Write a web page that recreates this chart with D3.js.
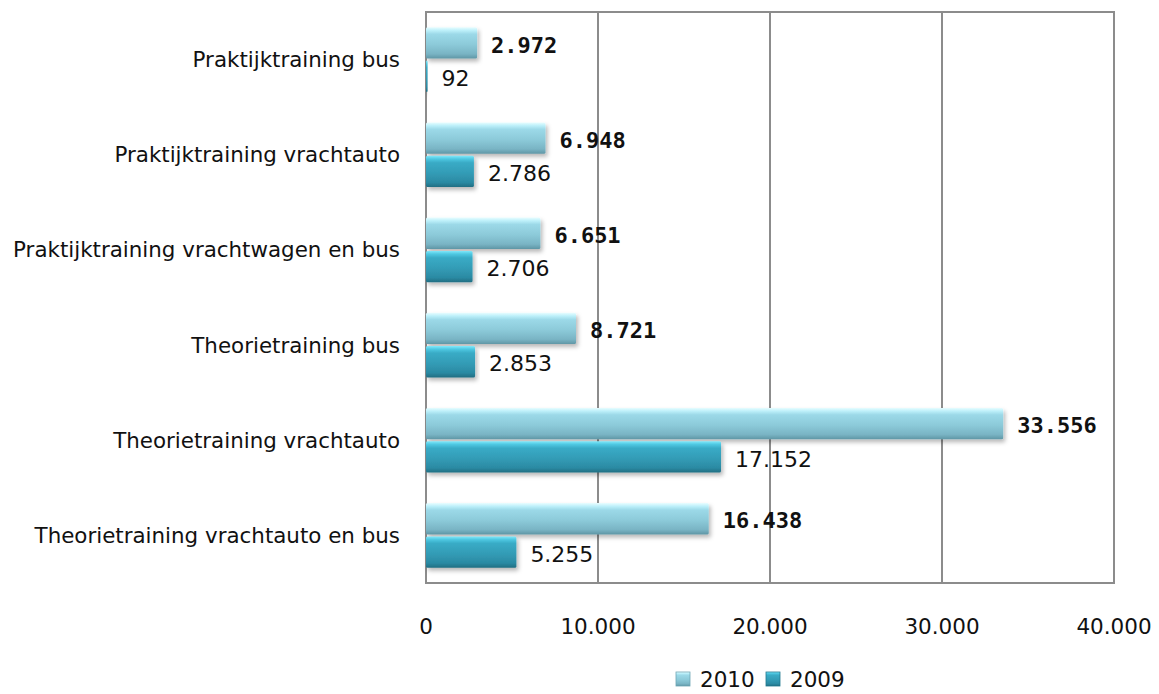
<!DOCTYPE html>
<html>
<head>
<meta charset="utf-8">
<script src="https://cdn.jsdelivr.net/npm/d3@7"></script>
<style>
  body { margin: 0; background: #fff; }
  svg text { font-family: "DejaVu Sans", sans-serif; fill: #111; }
</style>
</head>
<body>
<script>
// chart data
var categories = [
  "Praktijktraining bus",
  "Praktijktraining vrachtauto",
  "Praktijktraining vrachtwagen en bus",
  "Theorietraining bus",
  "Theorietraining vrachtauto",
  "Theorietraining vrachtauto en bus"
];
var values2010 = [2972, 6948, 6651, 8721, 33556, 16438];
var values2009 = [92, 2786, 2706, 2853, 17152, 5255];
var seriesNames = ["2010", "2009"];
var xTicks = [0, 10000, 20000, 30000, 40000];

var width = 1159, height = 694;
var plot = { left: 426, right: 1114, top: 12, bottom: 583 };

var nl = d3.formatLocale({ decimal: ",", thousands: ".", grouping: [3], currency: ["€", ""] });
var fmt = nl.format(",d");

var svg = d3.select("body").append("svg")
    .attr("width", width)
    .attr("height", height);

var defs = svg.append("defs");

// bar gradients (3d look)
function grad(id, stops) {
  var g = defs.append("linearGradient").attr("id", id)
      .attr("x1", 0).attr("y1", 0).attr("x2", 0).attr("y2", 1);
  stops.forEach(function (s) {
    g.append("stop").attr("offset", s[0]).attr("stop-color", s[1]);
  });
}
grad("g2010", [["0%", "#e8fdff"], ["10%", "#bdf0fa"], ["22%", "#9cd9e8"], ["55%", "#8ccad9"], ["85%", "#79b4c4"], ["100%", "#5f96a5"]]);
grad("g2009", [["0%", "#80e8fa"], ["10%", "#4ec8e2"], ["22%", "#39abc6"], ["55%", "#339cb6"], ["85%", "#2b8aa3"], ["100%", "#216e82"]]);

var shadow = defs.append("filter").attr("id", "shadow")
    .attr("x", "-5%").attr("y", "-20%").attr("width", "115%").attr("height", "160%");
shadow.append("feDropShadow").attr("dx", 2).attr("dy", 3)
    .attr("stdDeviation", 2).attr("flood-color", "#000").attr("flood-opacity", 0.28);

var x = d3.scaleLinear().domain([0, 40000]).range([plot.left, plot.right]);
var y = d3.scaleBand().domain(categories).range([plot.top, plot.bottom])
    .paddingInner(0.3).paddingOuter(0.15);
var ySub = d3.scaleBand().domain(seriesNames).range([0, y.bandwidth()]);

// gridlines
svg.append("g").selectAll("line")
  .data(xTicks.slice(1, -1))
  .enter().append("line")
    .attr("x1", function (d) { return x(d); })
    .attr("x2", function (d) { return x(d); })
    .attr("y1", plot.top).attr("y2", plot.bottom)
    .attr("stroke", "#8c8c8c").attr("stroke-width", 2);

// plot border
svg.append("rect")
    .attr("x", plot.left).attr("y", plot.top)
    .attr("width", plot.right - plot.left).attr("height", plot.bottom - plot.top)
    .attr("fill", "none").attr("stroke", "#8c8c8c").attr("stroke-width", 2);

// x axis labels
svg.append("g").selectAll("text")
  .data(xTicks)
  .enter().append("text")
    .attr("x", function (d) { return x(d); })
    .attr("y", 634)
    .attr("text-anchor", "middle")
    .style("font-size", "21.5px")
    .text(function (d) { return fmt(d); });

// category labels
svg.append("g").selectAll("text")
  .data(categories)
  .enter().append("text")
    .attr("x", plot.left - 26)
    .attr("y", function (d) { return y(d) + y.bandwidth() / 2; })
    .attr("dy", "0.35em")
    .attr("text-anchor", "end")
    .style("font-size", "21.4px")
    .text(function (d) { return d; });

var rows = categories.map(function (c, i) {
  return { cat: c, values: [
    { key: "2010", value: values2010[i] },
    { key: "2009", value: values2009[i] }
  ] };
});

var groups = svg.append("g").selectAll("g")
  .data(rows)
  .enter().append("g")
    .attr("transform", function (d) { return "translate(0," + y(d.cat) + ")"; });

groups.selectAll("rect")
  .data(function (d) { return d.values; })
  .enter().append("rect")
    .attr("x", x(0))
    .attr("y", function (d) { return ySub(d.key) + 1; })
    .attr("width", function (d) { return Math.max(1, x(d.value) - x(0)); })
    .attr("height", ySub.bandwidth() - 2)
    .attr("rx", 1.5)
    .attr("fill", function (d) { return "url(#g" + d.key + ")"; })
    .attr("filter", "url(#shadow)");

// value labels
groups.selectAll("text")
  .data(function (d) { return d.values; })
  .enter().append("text")
    .attr("x", function (d) { return x(d.value) + 14; })
    .attr("y", function (d) { return ySub(d.key) + ySub.bandwidth() / 2 + 2; })
    .attr("dy", "0.35em")
    .style("font-size", "22px")
    .style("font-family", function (d) { return d.key === "2010" ? "'DejaVu Sans Mono', monospace" : "'DejaVu Sans', sans-serif"; })
    .style("font-weight", function (d) { return d.key === "2010" ? "bold" : "normal"; })
    .text(function (d) { return fmt(d.value); });

// legend
var legend = svg.append("g").attr("transform", "translate(676,672)");
var items = legend.selectAll("g")
  .data(seriesNames)
  .enter().append("g")
    .attr("transform", function (d, i) { return "translate(" + (i * 90) + ",0)"; });
items.append("rect")
    .attr("width", 14).attr("height", 14)
    .attr("fill", function (d) { return "url(#g" + d + ")"; })
    .attr("stroke", function (d) { return d === "2010" ? "#6ea6b5" : "#22788e"; })
    .attr("stroke-width", 0.8);
items.append("text")
    .attr("x", 24).attr("y", 15)
    .style("font-size", "21.5px")
    .text(function (d) { return d; });
</script>
</body>
</html>
